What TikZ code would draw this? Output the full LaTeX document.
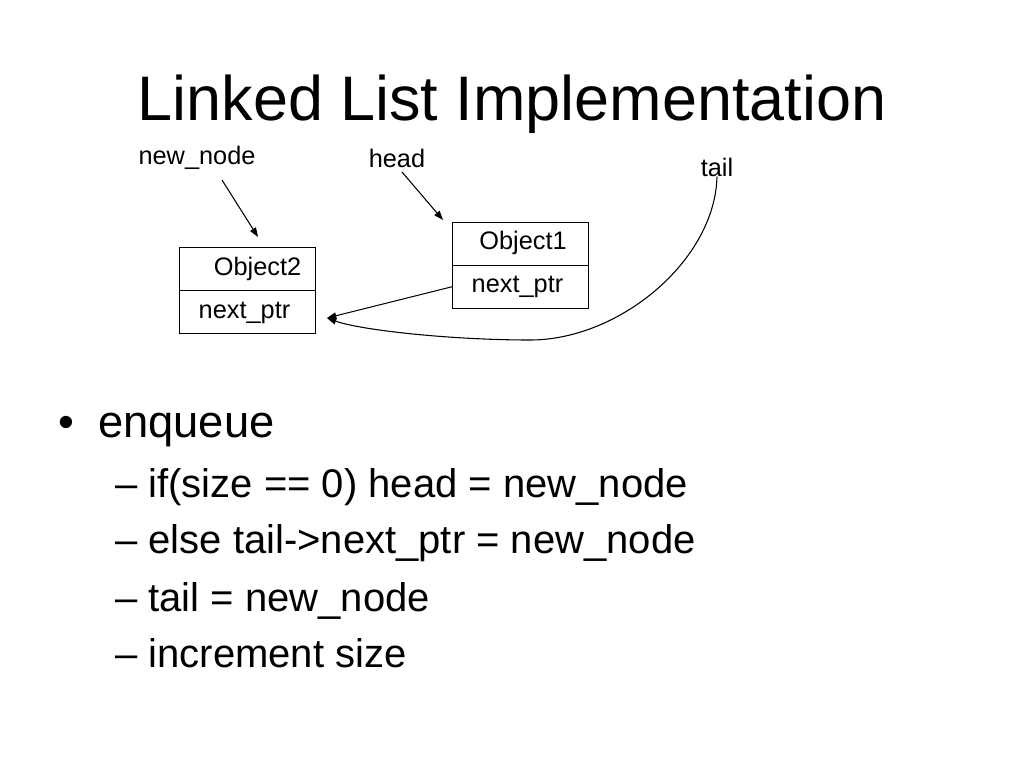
\documentclass[tikz,border=0pt]{standalone}
\usepackage{fontspec}
\setmainfont{Liberation Sans}
\usetikzlibrary{arrows.meta}
\begin{document}
\begin{tikzpicture}[x=0.75pt,y=-0.75pt,
  lbl/.style={font=\fontsize{19}{22}\selectfont, inner sep=0pt},
  cell/.style={draw, line width=0.6pt, minimum width=102pt, minimum height=32pt, inner sep=0pt},
  ptr/.style={line width=0.8pt, -{Triangle[length=7pt,width=5pt]}},
  item/.style={anchor=base west, inner sep=0pt, font=\fontsize{30}{34}\selectfont}]
\useasboundingbox (0,0) rectangle (1024,768);
\node[font=\fontsize{47.2}{52}\selectfont, inner sep=0pt, anchor=base] (title) at (512,120) {Linked List Implementation};
% Object2
\node[cell, anchor=north west] (o2a) at (179,247) {};
\node[cell, anchor=north west] (o2b) at (179,290) {};
\node[lbl] (o2t) at (257.5,269) {Object2};
\node[lbl] (o2n) at (244.5,313) {next\_ptr};
% Object1
\node[cell, anchor=north west] (o1a) at (452,222) {};
\node[cell, anchor=north west] (o1b) at (452,265) {};
\node[lbl] (o1t) at (523,243) {Object1};
\node[lbl] (o1n) at (517.5,287) {next\_ptr};
% labels
\node[lbl] (nn) at (197,158) {new\_node};
\node[lbl] (hd) at (397,158) {head};
\node[lbl] (tl) at (717,167) {tail};
\coordinate (nns) at (222,180);
\coordinate (nne) at (258,237);
\coordinate (hds) at (402,172);
\coordinate (hde) at (443,220);
\coordinate (t2) at (327,318);
\draw[ptr] (nns) -- (nne);
\draw[ptr] (hds) -- (hde);
\draw[ptr] (o1b.west) -- (t2);
\draw[ptr] (tl.south) .. controls (715,260) and (620,340) .. (530,340) .. controls (450,340) and (360,330) .. (t2);
% bullets
\node[item, font=\fontsize{34}{38}\selectfont] (b0) at (58,437) {•\hspace{18pt}enqueue};
\node[item] (b1) at (115,497) {– if(size == 0) head = new\_node};
\node[item] (b2) at (115,553) {– else tail->next\_ptr = new\_node};
\node[item] (b3) at (115,611) {– tail = new\_node};
\node[item] (b4) at (115,667) {– increment size};
\end{tikzpicture}
\end{document}
